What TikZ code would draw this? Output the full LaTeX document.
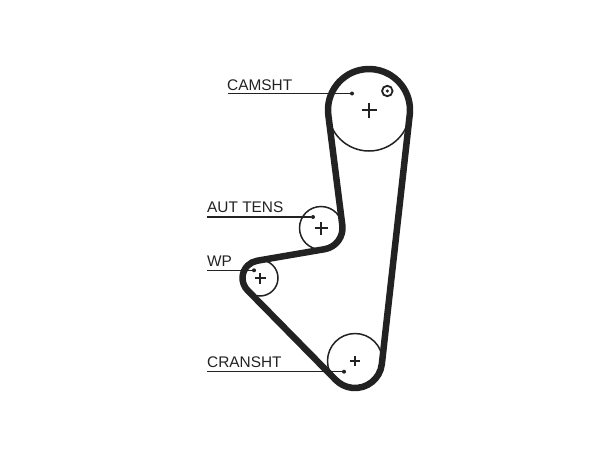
\documentclass[tikz,border=0pt]{standalone}
\usepackage{fontspec}
\setmainfont{Liberation Sans}
\usetikzlibrary{calc}
\definecolor{ink}{HTML}{222222}
\tikzset{
	pulley/.style={draw=ink,circle,line width=1.5pt,inner sep=0pt},
	belt/.style={draw=ink,line width=6.5pt,line join=round},
	leader/.style={draw=ink,line width=1.5pt},
	tag/.style={anchor=base west,inner sep=0pt,text=ink,font=\fontsize{15.4}{16}\selectfont},
	tagdot/.style={fill=ink,circle,inner sep=0pt,minimum size=4pt}
}
\begin{document}
\begin{tikzpicture}[x=1pt,y=1pt]
	\useasboundingbox (0,0) rectangle (612,459);
	% pulleys
	\node[pulley,minimum size=82pt] (cam) at (369,349) {};
	\node[pulley,minimum size=43pt] (tens) at (321,231) {};
	\node[pulley,minimum size=36pt] (wp) at (260,181) {};
	\node[pulley,minimum size=55pt] (crank) at (355,98) {};
	% centre marks
	\foreach \pul/\size/\wid in {cam/7.5/1.5,tens/6.5/1.5,wp/5.5/1.5,crank/5/1.8} {
		\draw[ink,line width=\wid pt] ($(\pul)+(-\size,0)$) -- ($(\pul)+(\size,0)$);
		\draw[ink,line width=\wid pt] ($(\pul)+(0,-\size)$) -- ($(\pul)+(0,\size)$);
	}
	% timing mark
	\node[pulley,line width=1.8pt,minimum size=10.5pt] (mark) at (387.3,368) {};
	\node[tagdot,minimum size=3.5pt] (markdot) at (mark) {};
	% belt
	\draw[belt] ($(cam)+(187.25:41)$) arc[start angle=187.25,end angle=-6.4,radius=41]
		-- ($(crank)+(-6.4:27)$) arc[start angle=-6.4,end angle=-135.5,radius=27]
		-- ($(wp)+(224.5:17.5)$) arc[start angle=224.5,end angle=99.7,radius=17.5]
		-- ($(tens)+(-80.3:21.5)$) arc[start angle=-80.3,end angle=7.25,radius=21.5]
		-- cycle;
	% labels
	\node[tag] (camtag) at (227,369) {CAMSHT};
	\node[tag] (tenstag) at (207,246.3) {AUT TENS};
	\node[tag] (wptag) at (207,193) {WP};
	\node[tag] (cranktag) at (207,92) {CRANSHT};
	\node[tagdot] (camdot) at (352,365.5) {};
	\node[tagdot] (tensdot) at (313,242) {};
	\node[tagdot] (wpdot) at (254,188.7) {};
	\node[tagdot] (crankdot) at (344,87.3) {};
	\coordinate (camstart) at (228,365.5);
	\coordinate (tensstart) at (207,242);
	\coordinate (wpstart) at (207,188.7);
	\coordinate (crankstart) at (207,87.3);
	\draw[leader] (camstart) -- (camdot);
	\draw[leader] (tensstart) -- (tensdot);
	\draw[leader] (wpstart) -- (wpdot);
	\draw[leader] (crankstart) -- (crankdot);
\end{tikzpicture}
\end{document}
